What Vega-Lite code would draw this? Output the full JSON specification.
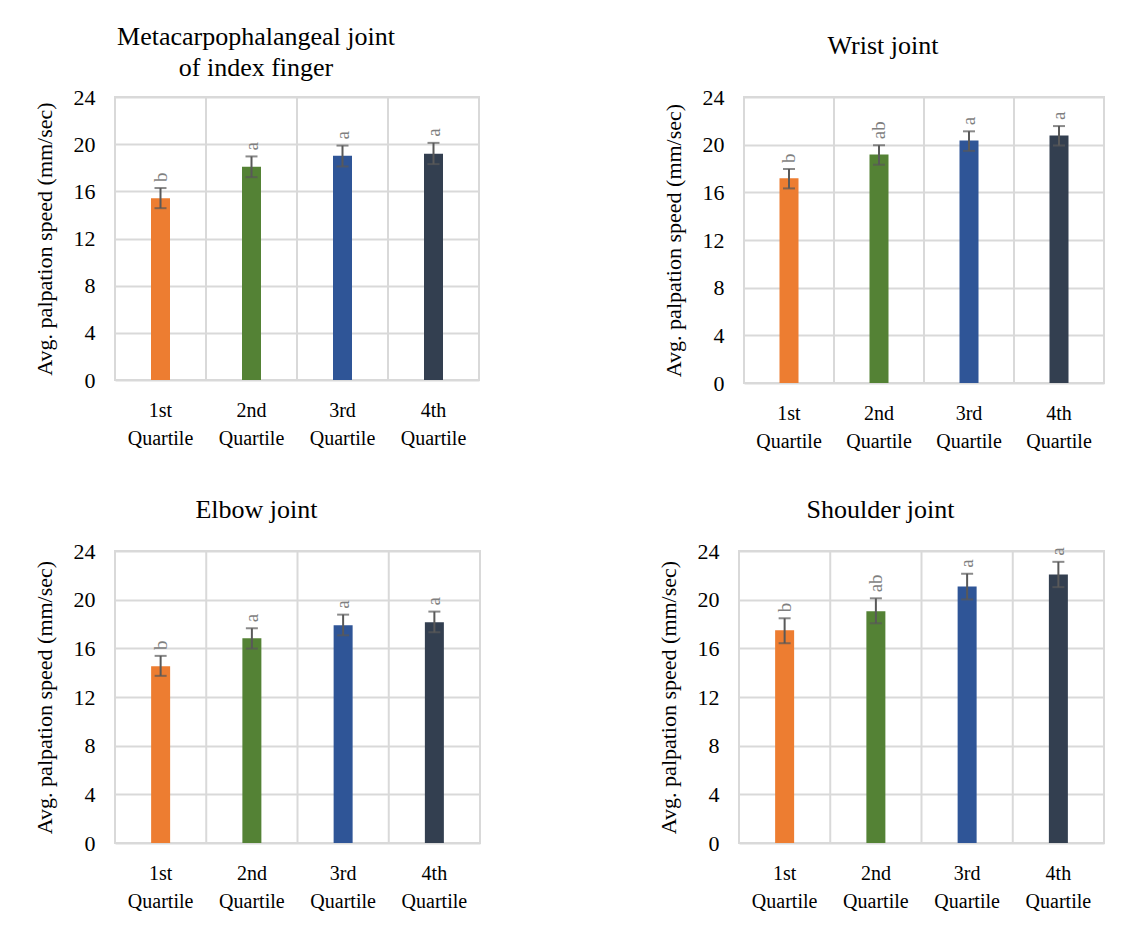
{
  "$schema": "https://vega.github.io/schema/vega-lite/v6.json",
  "background": "white",
  "padding": {"left": 31, "top": 23, "right": 5, "bottom": 5},
  "datasets": {
    "mcp": [
      {"quartile": "1st Quartile", "mean": 15.42, "lo": 14.57, "hi": 16.28, "sig": "b"},
      {"quartile": "2nd Quartile", "mean": 18.08, "lo": 17.2, "hi": 18.96, "sig": "a"},
      {"quartile": "3rd Quartile", "mean": 19.02, "lo": 18.11, "hi": 19.88, "sig": "a"},
      {"quartile": "4th Quartile", "mean": 19.19, "lo": 18.31, "hi": 20.11, "sig": "a"}
    ],
    "wrist": [
      {"quartile": "1st Quartile", "mean": 17.18, "lo": 16.33, "hi": 17.96, "sig": "b"},
      {"quartile": "2nd Quartile", "mean": 19.18, "lo": 18.32, "hi": 19.95, "sig": "ab"},
      {"quartile": "3rd Quartile", "mean": 20.34, "lo": 19.48, "hi": 21.12, "sig": "a"},
      {"quartile": "4th Quartile", "mean": 20.76, "lo": 19.93, "hi": 21.56, "sig": "a"}
    ],
    "elbow": [
      {"quartile": "1st Quartile", "mean": 14.53, "lo": 13.74, "hi": 15.38, "sig": "b"},
      {"quartile": "2nd Quartile", "mean": 16.83, "lo": 15.98, "hi": 17.65, "sig": "a"},
      {"quartile": "3rd Quartile", "mean": 17.89, "lo": 17.07, "hi": 18.77, "sig": "a"},
      {"quartile": "4th Quartile", "mean": 18.14, "lo": 17.32, "hi": 19.02, "sig": "a"}
    ],
    "shoulder": [
      {"quartile": "1st Quartile", "mean": 17.49, "lo": 16.42, "hi": 18.47, "sig": "b"},
      {"quartile": "2nd Quartile", "mean": 19.04, "lo": 18.06, "hi": 20.11, "sig": "ab"},
      {"quartile": "3rd Quartile", "mean": 21.09, "lo": 20.02, "hi": 22.13, "sig": "a"},
      {"quartile": "4th Quartile", "mean": 22.07, "lo": 21.03, "hi": 23.11, "sig": "a"}
    ]
  },
  "spacing": 44,
  "vconcat": [
    {
      "spacing": 180,
      "hconcat": [
        {
          "width": 364, "height": 283,
          "title": {"text": ["Metacarpophalangeal joint", "of index finger"], "offset": 5, "lineHeight": 31},
          "data": {"name": "mcp"},
          "encoding": {"x": {"field": "quartile", "type": "nominal", "sort": null, "scale": {"paddingInner": 0, "paddingOuter": 0}, "axis": {"title": null, "domain": false, "ticks": false, "labelAngle": 0, "labelExpr": "split(datum.label, ' ')", "labelLineHeight": 28, "labelPadding": 20, "labelFontSize": 20, "labelFont": "Liberation Serif", "labelColor": "#000"}}},
          "layer": [
            {"mark": {"type": "rule", "color": "#d9d9d9", "strokeWidth": 2}, "encoding": {"x": {"field": "quartile", "type": "nominal", "sort": null, "bandPosition": 0}}},
            {"mark": {"type": "bar", "width": 19}, "encoding": {"y": {"field": "mean", "type": "quantitative", "scale": {"domain": [0, 24], "nice": false}, "axis": {"title": "Avg. palpation speed (mm/sec)", "values": [0, 4, 8, 12, 16, 20, 24], "grid": true, "gridColor": "#d9d9d9", "gridWidth": 2, "domain": false, "ticks": false, "labelFontSize": 22, "labelPadding": 20, "titleFontSize": 22, "titlePadding": 17, "labelFont": "Liberation Serif", "titleFont": "Liberation Serif", "labelColor": "#000", "titleColor": "#000", "titleFontWeight": "normal"}}, "color": {"field": "quartile", "type": "nominal", "sort": null, "scale": {"range": ["#ED7D31", "#548235", "#2F5597", "#333F50"]}, "legend": null}}},
            {"mark": {"type": "rule", "color": "#595959", "strokeWidth": 2}, "encoding": {"y": {"field": "lo", "type": "quantitative"}, "y2": {"field": "hi"}}},
            {"mark": {"type": "tick", "color": "#595959", "thickness": 2, "size": 12, "orient": "horizontal"}, "encoding": {"y": {"field": "lo", "type": "quantitative"}}},
            {"mark": {"type": "tick", "color": "#595959", "thickness": 2, "size": 12, "orient": "horizontal"}, "encoding": {"y": {"field": "hi", "type": "quantitative"}}},
            {"mark": {"type": "text", "angle": 270, "align": "left", "baseline": "middle", "dx": 6, "fontSize": 19, "font": "Liberation Serif", "color": "#7f7f7f"}, "encoding": {"y": {"field": "hi", "type": "quantitative"}, "text": {"field": "sig"}}}
          ]
        },
        {
          "width": 360, "height": 286,
          "title": {"text": "Wrist joint", "offset": 27},
          "data": {"name": "wrist"},
          "encoding": {"x": {"field": "quartile", "type": "nominal", "sort": null, "scale": {"paddingInner": 0, "paddingOuter": 0}, "axis": {"title": null, "domain": false, "ticks": false, "labelAngle": 0, "labelExpr": "split(datum.label, ' ')", "labelLineHeight": 28, "labelPadding": 20, "labelFontSize": 20, "labelFont": "Liberation Serif", "labelColor": "#000"}}},
          "layer": [
            {"mark": {"type": "rule", "color": "#d9d9d9", "strokeWidth": 2}, "encoding": {"x": {"field": "quartile", "type": "nominal", "sort": null, "bandPosition": 0}}},
            {"mark": {"type": "bar", "width": 19}, "encoding": {"y": {"field": "mean", "type": "quantitative", "scale": {"domain": [0, 24], "nice": false}, "axis": {"title": "Avg. palpation speed (mm/sec)", "values": [0, 4, 8, 12, 16, 20, 24], "grid": true, "gridColor": "#d9d9d9", "gridWidth": 2, "domain": false, "ticks": false, "labelFontSize": 22, "labelPadding": 20, "titleFontSize": 22, "titlePadding": 17, "labelFont": "Liberation Serif", "titleFont": "Liberation Serif", "labelColor": "#000", "titleColor": "#000", "titleFontWeight": "normal"}}, "color": {"field": "quartile", "type": "nominal", "sort": null, "scale": {"range": ["#ED7D31", "#548235", "#2F5597", "#333F50"]}, "legend": null}}},
            {"mark": {"type": "rule", "color": "#595959", "strokeWidth": 2}, "encoding": {"y": {"field": "lo", "type": "quantitative"}, "y2": {"field": "hi"}}},
            {"mark": {"type": "tick", "color": "#595959", "thickness": 2, "size": 12, "orient": "horizontal"}, "encoding": {"y": {"field": "lo", "type": "quantitative"}}},
            {"mark": {"type": "tick", "color": "#595959", "thickness": 2, "size": 12, "orient": "horizontal"}, "encoding": {"y": {"field": "hi", "type": "quantitative"}}},
            {"mark": {"type": "text", "angle": 270, "align": "left", "baseline": "middle", "dx": 6, "fontSize": 19, "font": "Liberation Serif", "color": "#7f7f7f"}, "encoding": {"y": {"field": "hi", "type": "quantitative"}, "text": {"field": "sig"}}}
          ]
        }
      ]
    },
    {
      "spacing": 174,
      "hconcat": [
        {
          "width": 365, "height": 292,
          "title": {"text": "Elbow joint", "offset": 17},
          "data": {"name": "elbow"},
          "encoding": {"x": {"field": "quartile", "type": "nominal", "sort": null, "scale": {"paddingInner": 0, "paddingOuter": 0}, "axis": {"title": null, "domain": false, "ticks": false, "labelAngle": 0, "labelExpr": "split(datum.label, ' ')", "labelLineHeight": 28, "labelPadding": 20, "labelFontSize": 20, "labelFont": "Liberation Serif", "labelColor": "#000"}}},
          "layer": [
            {"mark": {"type": "rule", "color": "#d9d9d9", "strokeWidth": 2}, "encoding": {"x": {"field": "quartile", "type": "nominal", "sort": null, "bandPosition": 0}}},
            {"mark": {"type": "bar", "width": 19}, "encoding": {"y": {"field": "mean", "type": "quantitative", "scale": {"domain": [0, 24], "nice": false}, "axis": {"title": "Avg. palpation speed (mm/sec)", "values": [0, 4, 8, 12, 16, 20, 24], "grid": true, "gridColor": "#d9d9d9", "gridWidth": 2, "domain": false, "ticks": false, "labelFontSize": 22, "labelPadding": 20, "titleFontSize": 22, "titlePadding": 17, "labelFont": "Liberation Serif", "titleFont": "Liberation Serif", "labelColor": "#000", "titleColor": "#000", "titleFontWeight": "normal"}}, "color": {"field": "quartile", "type": "nominal", "sort": null, "scale": {"range": ["#ED7D31", "#548235", "#2F5597", "#333F50"]}, "legend": null}}},
            {"mark": {"type": "rule", "color": "#595959", "strokeWidth": 2}, "encoding": {"y": {"field": "lo", "type": "quantitative"}, "y2": {"field": "hi"}}},
            {"mark": {"type": "tick", "color": "#595959", "thickness": 2, "size": 12, "orient": "horizontal"}, "encoding": {"y": {"field": "lo", "type": "quantitative"}}},
            {"mark": {"type": "tick", "color": "#595959", "thickness": 2, "size": 12, "orient": "horizontal"}, "encoding": {"y": {"field": "hi", "type": "quantitative"}}},
            {"mark": {"type": "text", "angle": 270, "align": "left", "baseline": "middle", "dx": 6, "fontSize": 19, "font": "Liberation Serif", "color": "#7f7f7f"}, "encoding": {"y": {"field": "hi", "type": "quantitative"}, "text": {"field": "sig"}}}
          ]
        },
        {
          "width": 365, "height": 292,
          "title": {"text": "Shoulder joint", "offset": 17},
          "data": {"name": "shoulder"},
          "encoding": {"x": {"field": "quartile", "type": "nominal", "sort": null, "scale": {"paddingInner": 0, "paddingOuter": 0}, "axis": {"title": null, "domain": false, "ticks": false, "labelAngle": 0, "labelExpr": "split(datum.label, ' ')", "labelLineHeight": 28, "labelPadding": 20, "labelFontSize": 20, "labelFont": "Liberation Serif", "labelColor": "#000"}}},
          "layer": [
            {"mark": {"type": "rule", "color": "#d9d9d9", "strokeWidth": 2}, "encoding": {"x": {"field": "quartile", "type": "nominal", "sort": null, "bandPosition": 0}}},
            {"mark": {"type": "bar", "width": 19}, "encoding": {"y": {"field": "mean", "type": "quantitative", "scale": {"domain": [0, 24], "nice": false}, "axis": {"title": "Avg. palpation speed (mm/sec)", "values": [0, 4, 8, 12, 16, 20, 24], "grid": true, "gridColor": "#d9d9d9", "gridWidth": 2, "domain": false, "ticks": false, "labelFontSize": 22, "labelPadding": 20, "titleFontSize": 22, "titlePadding": 17, "labelFont": "Liberation Serif", "titleFont": "Liberation Serif", "labelColor": "#000", "titleColor": "#000", "titleFontWeight": "normal"}}, "color": {"field": "quartile", "type": "nominal", "sort": null, "scale": {"range": ["#ED7D31", "#548235", "#2F5597", "#333F50"]}, "legend": null}}},
            {"mark": {"type": "rule", "color": "#595959", "strokeWidth": 2}, "encoding": {"y": {"field": "lo", "type": "quantitative"}, "y2": {"field": "hi"}}},
            {"mark": {"type": "tick", "color": "#595959", "thickness": 2, "size": 12, "orient": "horizontal"}, "encoding": {"y": {"field": "lo", "type": "quantitative"}}},
            {"mark": {"type": "tick", "color": "#595959", "thickness": 2, "size": 12, "orient": "horizontal"}, "encoding": {"y": {"field": "hi", "type": "quantitative"}}},
            {"mark": {"type": "text", "angle": 270, "align": "left", "baseline": "middle", "dx": 6, "fontSize": 19, "font": "Liberation Serif", "color": "#7f7f7f"}, "encoding": {"y": {"field": "hi", "type": "quantitative"}, "text": {"field": "sig"}}}
          ]
        }
      ]
    }
  ],
  "config": {
    "view": {"stroke": "#d9d9d9", "strokeWidth": 2},
    "font": "Liberation Serif",
    "title": {"font": "Liberation Serif", "fontSize": 26, "fontWeight": "normal", "color": "#000", "anchor": "middle", "frame": "bounds"}
  }
}
